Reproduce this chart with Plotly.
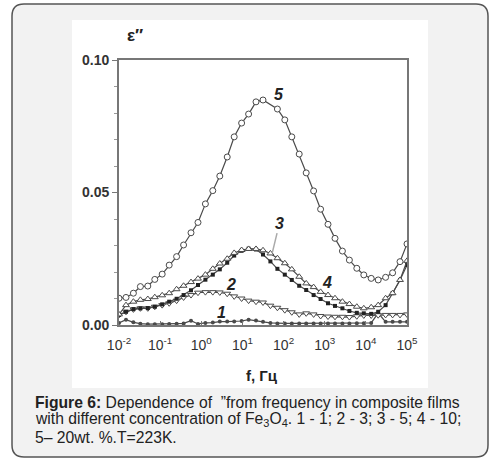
import plotly.graph_objects as go

# log10 of frequency (Hz), common to all curves
LOG_F = [-2.0, -1.83, -1.65, -1.48, -1.3, -1.13, -0.95, -0.78, -0.6, -0.43,
         -0.25, -0.08, 0.1, 0.28, 0.45, 0.63, 0.8, 0.98, 1.15, 1.33,
         1.5, 1.68, 1.85, 2.03, 2.2, 2.38, 2.55, 2.73, 2.9, 3.08,
         3.25, 3.43, 3.6, 3.78, 3.95, 4.13, 4.3, 4.48, 4.65, 4.83, 5.0]

# eps'' for 1, 3, 5, 10, 20 wt.% Fe3O4
EPS_1 = [0.0008, 0.0020, 0.0010, 0.0005, 0.0003, 0.0003, 0.0003, 0.0004, 0.0005, 0.0006,
         0.0016, 0.0004, 0.0008, 0.0009, 0.0013, 0.0013, 0.0013, 0.0015, 0.0020, 0.0017,
         0.0012, 0.0008, 0.0006, 0.0006, 0.0006, 0.0006, 0.0006, 0.0006, 0.0006, 0.0006,
         0.0006, 0.0006, 0.0006, 0.0007, 0.0007, 0.0008, 0.0045, 0.0012, 0.0012, 0.0012, 0.0012]
EPS_2 = [0.0038, 0.0050, 0.0059, 0.0063, 0.0063, 0.0069, 0.0075, 0.0082, 0.0092, 0.0104,
         0.0113, 0.0122, 0.0124, 0.0124, 0.0123, 0.0118, 0.0108, 0.0100, 0.0092, 0.0088,
         0.0085, 0.0073, 0.0065, 0.0056, 0.0048, 0.0040, 0.0044, 0.0040, 0.0034, 0.0032,
         0.0031, 0.0031, 0.0030, 0.0033, 0.0036, 0.0036, 0.0037, 0.0038, 0.0038, 0.0038, 0.0040]
EPS_3 = [0.0040, 0.0075, 0.0088, 0.0095, 0.0098, 0.0105, 0.0112, 0.0120, 0.0135, 0.0148,
         0.0162, 0.0175, 0.0190, 0.0212, 0.0232, 0.0250, 0.0272, 0.0283, 0.0287, 0.0287,
         0.0282, 0.0270, 0.0252, 0.0233, 0.0210, 0.0182, 0.0157, 0.0143, 0.0125, 0.0113,
         0.0101, 0.0088, 0.0079, 0.0069, 0.0063, 0.0067, 0.0075, 0.0101, 0.0120, 0.0170, 0.0242]
EPS_4 = [0.0038, 0.0050, 0.0060, 0.0063, 0.0064, 0.0069, 0.0078, 0.0088, 0.0099, 0.0113,
         0.0131, 0.0151, 0.0171, 0.0190, 0.0210, 0.0235, 0.0262, 0.0280, 0.0288, 0.0285,
         0.0266, 0.0240, 0.0212, 0.0190, 0.0170, 0.0148, 0.0132, 0.0113, 0.0098, 0.0082,
         0.0072, 0.0063, 0.0053, 0.0046, 0.0044, 0.0042, 0.0050, 0.0075, 0.0120, 0.0170, 0.0226]
EPS_5 = [0.0101, 0.0104, 0.0120, 0.0145, 0.0147, 0.0172, 0.0192, 0.0226, 0.0258, 0.0302,
         0.0348, 0.0387, 0.0457, 0.0507, 0.0562, 0.0634, 0.0710, 0.0762, 0.0796, 0.0842,
         0.0849, None, 0.0815, 0.0774, 0.0710, 0.0645, 0.0574, 0.0506, 0.0437, 0.0380,
         0.0327, 0.0279, 0.0245, 0.0214, 0.0189, 0.0176, 0.0170, 0.0180, 0.0197, 0.0239, 0.0306]

X_TICKS = [1e-2, 1e-1, 1e0, 1e1, 1e2, 1e3, 1e4, 1e5]
X_TICK_TEXT = ['10<sup>-2</sup>', '10<sup>-1</sup>', '10<sup>0</sup>', '10<sup>1</sup>',
               '10<sup>2</sup>', '10<sup>3</sup>', '10<sup>4</sup>', '10<sup>5</sup>']
Y_TICKS = [0.0, 0.05, 0.10]
Y_TICK_TEXT = ['<b>0.00</b>', '<b>0.05</b>', '<b>0.10</b>']

FONT = 'Arial, Liberation Sans, sans-serif'
LINE = '#4a4a4a'

W, H = 494, 463
L, R, T, B = 119, 407, 60, 325


def px(x):
    return (x - L) / (R - L)


def py(y):
    return (B - y) / (B - T)


def rounded_box(x0, y0, x1, y1, r):
    rx = r / (R - L)
    ry = r / (B - T)
    a, b, c, d = px(x0), px(x1), py(y0), py(y1)
    return (f'M {a + rx},{c} L {b - rx},{c} Q {b},{c} {b},{c - ry} '
            f'L {b},{d + ry} Q {b},{d} {b - rx},{d} L {a + rx},{d} '
            f'Q {a},{d} {a},{d + ry} L {a},{c - ry} Q {a},{c} {a + rx},{c} Z')


freq = [10 ** v for v in LOG_F]

fig = go.Figure()

open_line = dict(color=LINE, width=1)
series = [
    (EPS_1, dict(symbol='circle', size=4, color=LINE)),
    (EPS_2, dict(symbol='triangle-down', size=6, color='white', line=open_line)),
    (EPS_4, dict(symbol='square', size=4, color='#222')),
    (EPS_3, dict(symbol='triangle-up', size=6, color='white', line=open_line)),
    (EPS_5, dict(symbol='circle', size=6, color='white', line=open_line)),
]
for vals, marker in series:
    fig.add_trace(go.Scatter(x=freq, y=vals, mode='lines+markers', connectgaps=True,
                             line=dict(color=LINE, width=1.2), marker=marker,
                             showlegend=False, hoverinfo='skip'))

shapes = [
    dict(type='path', xref='paper', yref='paper', layer='below',
         path=rounded_box(12, 4, 488, 457, 12),
         fillcolor='#f2f2f2', line=dict(color='#555', width=1.5)),
    dict(type='rect', xref='paper', yref='paper', layer='below',
         x0=px(72), x1=px(428), y0=py(20), y1=py(388),
         fillcolor='white', line=dict(width=0)),
]

annotations = [
    dict(x=px(135), y=py(35), text='<b>ε″</b>', font=dict(size=17, color='#222')),
    dict(x=px(262), y=py(375), text='<b>f, Гц</b>', font=dict(size=15, color='#222')),
    dict(x=1.90, y=0.0868, xref='x', yref='y', text='<b><i>5</i></b>',
         font=dict(size=16, color='#222')),
    dict(x=1.73, y=0.0275, xref='x', yref='y', text='<b><i>3</i></b>',
         font=dict(size=16, color='#222'), showarrow=True, arrowhead=0,
         arrowcolor='#aaa', arrowwidth=1.5, ax=7, ay=-29, standoff=0),
    dict(x=3.05, y=0.0162, xref='x', yref='y', text='<b><i>4</i></b>',
         font=dict(size=16, color='#222')),
    dict(x=0.73, y=0.0151, xref='x', yref='y', text='<b><i>2</i></b>',
         font=dict(size=16, color='#222')),
    dict(x=0.49, y=0.0049, xref='x', yref='y', text='<b><i>1</i></b>',
         font=dict(size=16, color='#222')),
]

caption = [
    '<b>Figure 6:</b> Dependence of  ”from frequency in composite films',
    'with different concentration of Fe<sub>3</sub>O<sub>4</sub>. 1 - 1; 2 - 3; 3 - 5; 4 - 10;',
    '5– 20wt. %.T=223K.',
]
for i, line in enumerate(caption):
    annotations.append(dict(x=px(33), y=py(402 + 17.5 * i), text=line, xanchor='left',
                            font=dict(size=15.7, color='#222')))

for a in annotations:
    a.setdefault('xref', 'paper')
    a.setdefault('yref', 'paper')
    a.setdefault('showarrow', False)
    a.setdefault('xanchor', 'center')
    a.setdefault('yanchor', 'middle')

fig.update_layout(
    width=W, height=H,
    margin=dict(l=L, r=W - R, t=T, b=H - B),
    paper_bgcolor='white', plot_bgcolor='white',
    font=dict(family=FONT, color='#333'),
    shapes=shapes, annotations=annotations,
)
fig.update_xaxes(type='log', range=[-2, 5], tickvals=X_TICKS, ticktext=X_TICK_TEXT,
                 showgrid=False, zeroline=False, showline=True, mirror=True,
                 linecolor='#777', linewidth=1.5, ticks='inside', ticklen=4,
                 tickcolor='#777', tickfont=dict(size=14, color='#333'),
                 ticklabelstandoff=6)
fig.update_yaxes(range=[0, 0.10], tickvals=Y_TICKS, ticktext=Y_TICK_TEXT,
                 showgrid=False, zeroline=False, showline=True, mirror=True,
                 linecolor='#777', linewidth=1.8, ticks='outside', ticklen=5,
                 tickcolor='#777', tickfont=dict(size=14, color='#333'),
                 minor=dict(dtick=0.01, ticks='outside', ticklen=3, tickcolor='#999'))

fig.write_html('out.html', config={'displayModeBar': False},
               post_script="document.body.style.margin = '0';")
